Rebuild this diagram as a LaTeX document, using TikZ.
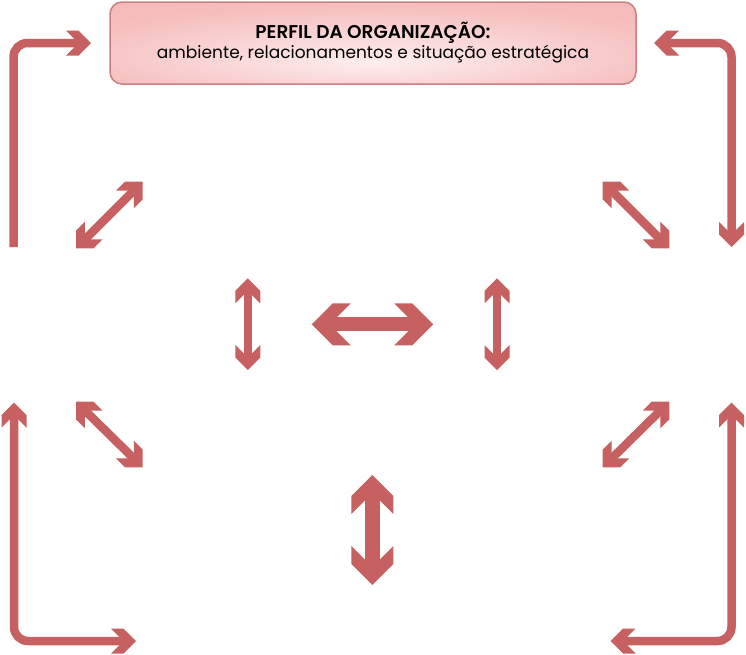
\documentclass[tikz,border=0pt]{standalone}
\usepackage{fontspec}
\setmainfont{Poppins}[BoldFont={Poppins SemiBold}]
\definecolor{arr}{RGB}{199,96,96}
\definecolor{boxedge}{RGB}{200,128,128}
\definecolor{boxin}{RGB}{253,238,238}
\definecolor{boxmid}{RGB}{246,190,190}
\definecolor{boxout}{RGB}{243,172,172}
\pgfdeclareradialshading{boxsh}{\pgfpoint{0bp}{-12bp}}{color(0bp)=(boxin); color(30bp)=(boxmid); color(60bp)=(boxout); color(80bp)=(boxout)}
\begin{document}
\begin{tikzpicture}[x=1pt,y=-1pt,
  shaftS/.style={draw=arr,line width=8.5pt,shorten >=8pt,shorten <=8pt},
  shaftB/.style={draw=arr,line width=15pt,shorten >=12pt,shorten <=12pt},
  elbow/.style={draw=arr,line width=8.5pt,rounded corners=14pt},
  headS/.pic={\fill[arr] (0,0)--(-12.5,12.5)--(-25,12.5)--(-12.5,0)--(-25,-12.5)--(-12.5,-12.5)--cycle;},
  headB/.pic={\fill[arr] (0,0)--(-21,21)--(-39,21)--(-18,0)--(-39,-21)--(-21,-21)--cycle;}]
\useasboundingbox (0,0) rectangle (746,654);
\node[name=org, shading=boxsh, draw=boxedge, line width=1.5pt,
  rounded corners=12pt, minimum width=526pt, minimum height=82pt, align=center,
  font=\fontsize{17}{20}\selectfont] at (373,43)
  {{\fontsize{18.5}{20}\selectfont\bfseries PERFIL DA ORGANIZAÇÃO:}\\ambiente, relacionamentos e situação estratégica};
% elbow arrows
\coordinate (e1s) at (13.5,247); \coordinate (e1t) at (91,43);
\draw[elbow, shorten >=8pt] (e1s) |- (e1t);
\pic[rotate=0] at (e1t) {headS};
\coordinate (e2a) at (654,43); \coordinate (e2b) at (731.5,247);
\draw[elbow, shorten >=8pt, shorten <=8pt] (e2a) -| (e2b);
\pic[rotate=180] at (e2a) {headS}; \pic[rotate=-90] at (e2b) {headS};
\coordinate (e3a) at (14,402.7); \coordinate (e3b) at (136,641);
\draw[elbow, shorten >=8pt, shorten <=8pt] (e3a) |- (e3b);
\pic[rotate=90] at (e3a) {headS}; \pic[rotate=0] at (e3b) {headS};
\coordinate (e4a) at (731.5,402.7); \coordinate (e4b) at (610.7,641);
\draw[elbow, shorten >=8pt, shorten <=8pt] (e4a) |- (e4b);
\pic[rotate=90] at (e4a) {headS}; \pic[rotate=180] at (e4b) {headS};
% diagonals
\coordinate (d1a) at (142.7,181.7); \coordinate (d1b) at (76,248.3);
\draw[shaftS] (d1a) -- (d1b);
\pic[rotate=45] at (d1a) {headS}; \pic[rotate=-135] at (d1b) {headS};
\coordinate (d2a) at (602.7,181.7); \coordinate (d2b) at (669.3,248.3);
\draw[shaftS] (d2a) -- (d2b);
\pic[rotate=135] at (d2a) {headS}; \pic[rotate=-45] at (d2b) {headS};
\coordinate (d3a) at (76,401.7); \coordinate (d3b) at (142.7,467.3);
\draw[shaftS] (d3a) -- (d3b);
\pic[rotate=135] at (d3a) {headS}; \pic[rotate=-45] at (d3b) {headS};
\coordinate (d4a) at (669.3,401.7); \coordinate (d4b) at (602.7,467.3);
\draw[shaftS] (d4a) -- (d4b);
\pic[rotate=45] at (d4a) {headS}; \pic[rotate=-135] at (d4b) {headS};
% small verticals
\coordinate (v1a) at (247.8,278.3); \coordinate (v1b) at (247.8,370);
\draw[shaftS] (v1a) -- (v1b);
\pic[rotate=90] at (v1a) {headS}; \pic[rotate=-90] at (v1b) {headS};
\coordinate (v2a) at (497,278.3); \coordinate (v2b) at (497,370);
\draw[shaftS] (v2a) -- (v2b);
\pic[rotate=90] at (v2a) {headS}; \pic[rotate=-90] at (v2b) {headS};
% big arrows
\coordinate (ha) at (311.7,324.3); \coordinate (hb) at (433.3,324.3);
\draw[shaftB, line width=14pt] (ha) -- (hb);
\pic[rotate=180] at (ha) {headB}; \pic[rotate=0] at (hb) {headB};
\coordinate (ba) at (372.3,475); \coordinate (bb) at (372.3,585);
\draw[shaftB] (ba) -- (bb);
\pic[rotate=90] at (ba) {headB}; \pic[rotate=-90] at (bb) {headB};
\end{tikzpicture}
\end{document}
